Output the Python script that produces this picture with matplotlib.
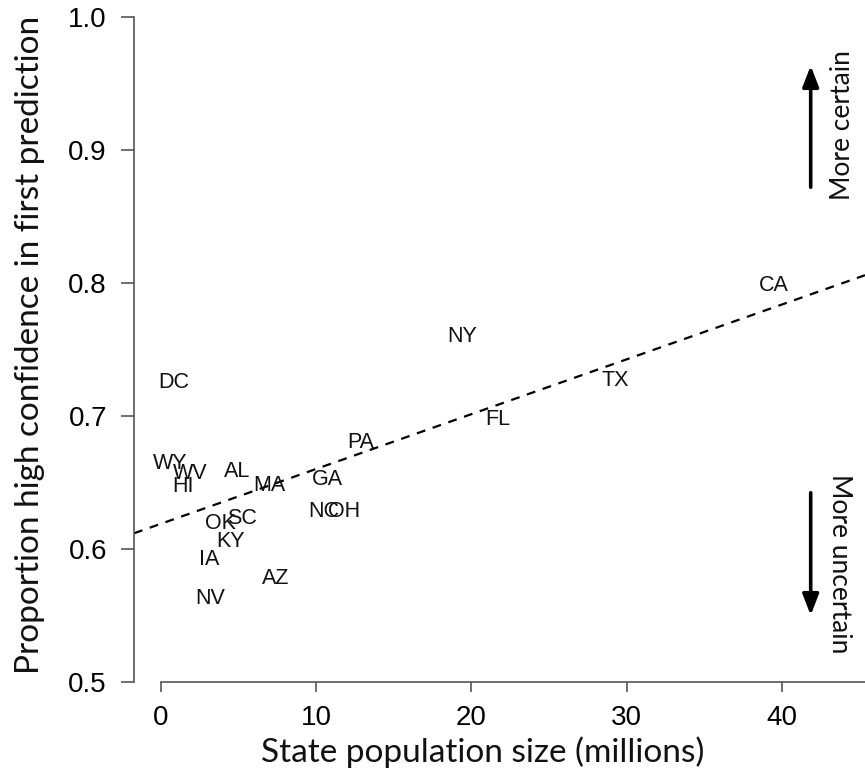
import matplotlib
matplotlib.use("Agg")
import matplotlib.pyplot as plt

# state labels, population (millions) and proportion of high-confidence first predictions
states = ["CA", "NY", "TX", "FL", "PA", "DC", "WY", "WV", "HI", "AL", "MA", "GA",
          "NC", "OH", "OK", "SC", "KY", "IA", "AZ", "NV"]
population = [39.5, 19.4, 29.3, 21.7, 12.9, 0.8, 0.6, 1.9, 1.4, 4.9, 7.0, 10.7,
              10.5, 11.8, 3.8, 5.2, 4.5, 3.1, 7.4, 3.2]
prop_high_conf = [0.798, 0.760, 0.727, 0.697, 0.680, 0.725, 0.664, 0.657, 0.647, 0.658, 0.648, 0.652,
                  0.628, 0.628, 0.619, 0.623, 0.606, 0.592, 0.578, 0.563]

# fitted regression line
fit_intercept = 0.619
fit_slope = 0.00412

tick_font = "Liberation Sans"
label_font = "Lato"

W, H = 865, 782
fig = plt.figure(figsize=(W / 100, H / 100), dpi=100)
ax = fig.add_axes([134 / W, 100 / H, (W - 134) / W, 682 / H])

for s, x, y in zip(states, population, prop_high_conf):
    ax.text(x, y, s, ha="center", va="center", fontsize=15.5, family=tick_font, color="#111111")

ax.axline((0, fit_intercept), slope=fit_slope, color="black", linestyle=(0, (4, 3.5)), linewidth=1.6)

ax.set_xlim(-1.74, 45.36)
ax.set_ylim(0.5, 1.0128)
ax.set_xticks([0, 10, 20, 30, 40])
ax.set_yticks([0.5, 0.6, 0.7, 0.8, 0.9, 1.0])
ax.set_yticklabels(["0.5", "0.6", "0.7", "0.8", "0.9", "1.0"])

for side in ("top", "right"):
    ax.spines[side].set_visible(False)
ax.spines["left"].set_bounds(0.5, 1.0)
ax.spines["bottom"].set_bounds(0, 45.36)
for side in ("left", "bottom"):
    ax.spines[side].set_color("#555555")
    ax.spines[side].set_linewidth(1.2)

ax.tick_params(axis="y", direction="out", length=9.5, width=1.2, color="#555555", pad=10)
ax.tick_params(axis="x", direction="out", length=7.5, width=1.2, color="#555555", pad=9)
for lab in ax.get_xticklabels() + ax.get_yticklabels():
    lab.set_family(tick_font)
    lab.set_fontsize(20)
    lab.set_color("black")

fig.text(483 / W, (H - 752) / H, "State population size (millions)", ha="center", va="center",
         fontsize=24, family=label_font, color="#111111")
fig.text(30 / W, (H - 345) / H, "Proportion high confidence in first prediction", ha="center",
         va="center", rotation=90, fontsize=24, family=label_font, color="#111111")

arrow_kw = dict(arrowstyle="-|>,head_length=0.9,head_width=0.35", color="black", lw=2.6)
fig.add_artist(matplotlib.patches.FancyArrowPatch((810.7 / W, 592 / H), (810.7 / W, 719 / H),
                                                  transform=fig.transFigure, mutation_scale=14, **arrow_kw))
fig.add_artist(matplotlib.patches.FancyArrowPatch((810.7 / W, 292 / H), (810.7 / W, 164 / H),
                                                  transform=fig.transFigure, mutation_scale=14, **arrow_kw))
fig.text(843 / W, (H - 125) / H, "More certain", ha="center", va="center", rotation=90,
         fontsize=19, family=label_font, color="#111111")
fig.text(840 / W, (H - 564) / H, "More uncertain", ha="center", va="center", rotation=-90,
         fontsize=19, family=label_font, color="#111111")

fig.savefig("out.png", dpi=100)
